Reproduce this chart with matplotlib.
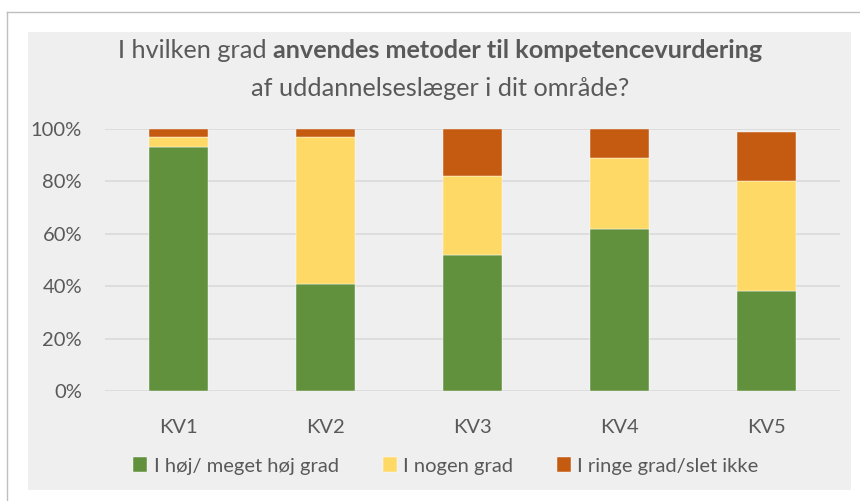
# Stacked bar chart - kompetencevurdering

import numpy as np
import matplotlib.pyplot as plt
from matplotlib.patches import Rectangle
from matplotlib.lines import Line2D

plt.rcParams['font.family'] = ['Lato', 'DejaVu Sans']

# Data (percent)
categories = ['KV1', 'KV2', 'KV3', 'KV4', 'KV5']
hoej = [93, 41, 52, 62, 38]
nogen = [4, 56, 30, 27, 42]
ringe = [3, 3, 18, 11, 19]
series_labels = ['I høj/ meget høj grad', 'I nogen grad', 'I ringe grad/slet ikke']
yticks = [0, 20, 40, 60, 80, 100]

colors = ['#62913D', '#FFD966', '#C55A11']
text_col = '#595959'

W, H = 860, 501
fig = plt.figure(figsize=(W / 100, H / 100), dpi=100)
fig.patch.set_facecolor('white')

# screenshot frame + grey chart panel
fig.add_artist(Line2D([7 / W, 1], [1 - 12 / H, 1 - 12 / H], color='#BFBFBF', lw=1))
fig.add_artist(Line2D([7 / W, 7 / W], [0, 1 - 12 / H], color='#BFBFBF', lw=1))
fig.add_artist(Rectangle((28 / W, 1 - 490 / H), (851 - 28) / W, (490 - 32) / H,
                         transform=fig.transFigure, facecolor='#EFEFEF',
                         edgecolor='none', zorder=0))

ax = fig.add_axes([105 / W, 1 - 391 / H, (840 - 105) / W, (391 - 129) / H])
ax.set_facecolor('none')

x = np.arange(len(categories))
bottom = np.zeros(len(categories))
for vals, c, lab in zip([hoej, nogen, ringe], colors, series_labels):
    ax.bar(x, vals, 0.4, bottom=bottom, color=c, label=lab, zorder=3,
           edgecolor='white', linewidth=0.3)
    bottom += np.array(vals)

ax.set_xlim(-0.5, len(categories) - 0.5)
ax.set_ylim(0, 100)
ax.set_yticks(yticks)
ax.set_yticklabels([f'{v}%' for v in yticks])
ax.set_xticks(x)
ax.set_xticklabels(categories)
ax.tick_params(length=0, labelsize=14.5, colors=text_col)
ax.tick_params(axis='x', pad=20)
ax.tick_params(axis='y', pad=16.5)
ax.grid(axis='y', color='#DADADA', lw=1.2, zorder=0)
for s in ax.spines.values():
    s.set_visible(False)

# title with bold part
t1 = fig.text(0, 1 - 50 / H, 'I hvilken grad ', fontsize=18.2, color=text_col, va='center')
t2 = fig.text(0, 1 - 50 / H, 'anvendes metoder til kompetencevurdering', fontsize=18.2,
              fontweight='bold', color=text_col, va='center')
fig.canvas.draw()
r = fig.canvas.get_renderer()
w1 = t1.get_window_extent(r).width
w2 = t2.get_window_extent(r).width
x0 = 440 - (w1 + w2) / 2
t1.set_x(x0 / W)
t2.set_x((x0 + w1) / W)
fig.text(440 / W, 1 - 88 / H, 'af uddannelseslæger i dit område?', fontsize=18.2,
         color=text_col, ha='center', va='center')

leg = fig.legend(loc='center', bbox_to_anchor=(446 / W, 1 - 466 / H), ncol=3,
                 frameon=False, fontsize=14.5, handlelength=0.7, handleheight=0.7,
                 handletextpad=0.3, columnspacing=2.2)
for t in leg.get_texts():
    t.set_color(text_col)

plt.savefig('out.png', dpi=100, facecolor='white')
